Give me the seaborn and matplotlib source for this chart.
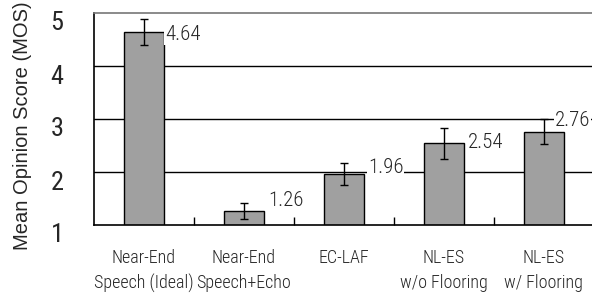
import matplotlib
matplotlib.use("Agg")
import matplotlib.pyplot as plt
import matplotlib.transforms as mtransforms
import seaborn as sns
import pandas as pd

categories = ["Near-End\nSpeech (Ideal)", "Near-End\nSpeech+Echo", "EC-LAF",
              "NL-ES\nw/o Flooring", "NL-ES\nw/ Flooring"]
mos = [4.64, 1.26, 1.96, 2.54, 2.76]
err = [0.25, 0.15, 0.21, 0.29, 0.24]
value_labels = ["4.64", "1.26", "1.96", "2.54", "2.76"]
yticks = [1, 2, 3, 4, 5]

sns.set_theme(style="white")
narrow = ["Roboto Condensed", "DejaVu Sans"]
plt.rcParams['font.family'] = narrow

df = pd.DataFrame({"cat": categories, "mos": mos})

fig = plt.figure(figsize=(5.92, 2.97), dpi=100)
ax = fig.add_axes([94/592, 1 - 225/297, 1.003 - 94/592, (225 - 13)/297])

sns.barplot(data=df, x="cat", y="mos", ax=ax, color="#a0a0a0", saturation=1,
            width=0.4, edgecolor="black", linewidth=1, errorbar=None, zorder=2)
ax.errorbar(range(len(mos)), mos, yerr=err, fmt="none", ecolor="black",
            elinewidth=1, capsize=3, capthick=1, zorder=3)

ax.set_ylim(1, 5)
ax.set_xlim(-0.5, len(mos) - 0.5)
ax.set_yticks(yticks)
ax.set_yticklabels([str(t) for t in yticks], fontsize=19, family=narrow)
ax.tick_params(axis="y", length=0, pad=22)
shift = mtransforms.ScaledTranslation(0, -8/100, fig.dpi_scale_trans)
for t in ax.get_yticklabels():
    t.set_transform(t.get_transform() + shift)
ax.set_xticks(range(len(mos)))
ax.set_xticklabels(categories, fontsize=13, linespacing=1.5, family=narrow, weight="light")
ax.tick_params(axis="x", length=0, pad=17)
ax.set_xticks([i + 0.5 for i in range(len(mos) - 1)], minor=True)
ax.tick_params(axis="x", which="minor", direction="in", length=6, width=1, color="black", bottom=True)

for y in [2, 3, 4]:
    ax.axhline(y, color="black", lw=1, zorder=1)

ax.set_xlabel("")
ax.set_ylabel("Mean Opinion Score (MOS)", fontsize=14.5, family=["Liberation Sans", "DejaVu Sans"])
ax.yaxis.set_label_coords(-0.125, 0.47)

for side in ["left", "bottom"]:
    ax.spines[side].set_color("black")
    ax.spines[side].set_linewidth(1.2)
ax.spines["top"].set_color("#777777")
ax.spines["top"].set_linewidth(1.2)
ax.spines["right"].set_visible(False)

# label offsets (x from bar centre, y in data units)
offs = [(0.21, -0.05), (0.24, 0.21), (0.24, 0.13), (0.24, 0.01), (0.11, 0.22)]
for i, (v, lab) in enumerate(zip(mos, value_labels)):
    dx, dy = offs[i]
    ax.text(i + dx, v + dy, lab, ha="left", va="center", fontsize=15, family=narrow,
            weight="light",
            bbox=dict(facecolor="white", edgecolor="none", pad=0.5), zorder=4)

fig.savefig("out.png", dpi=100)
